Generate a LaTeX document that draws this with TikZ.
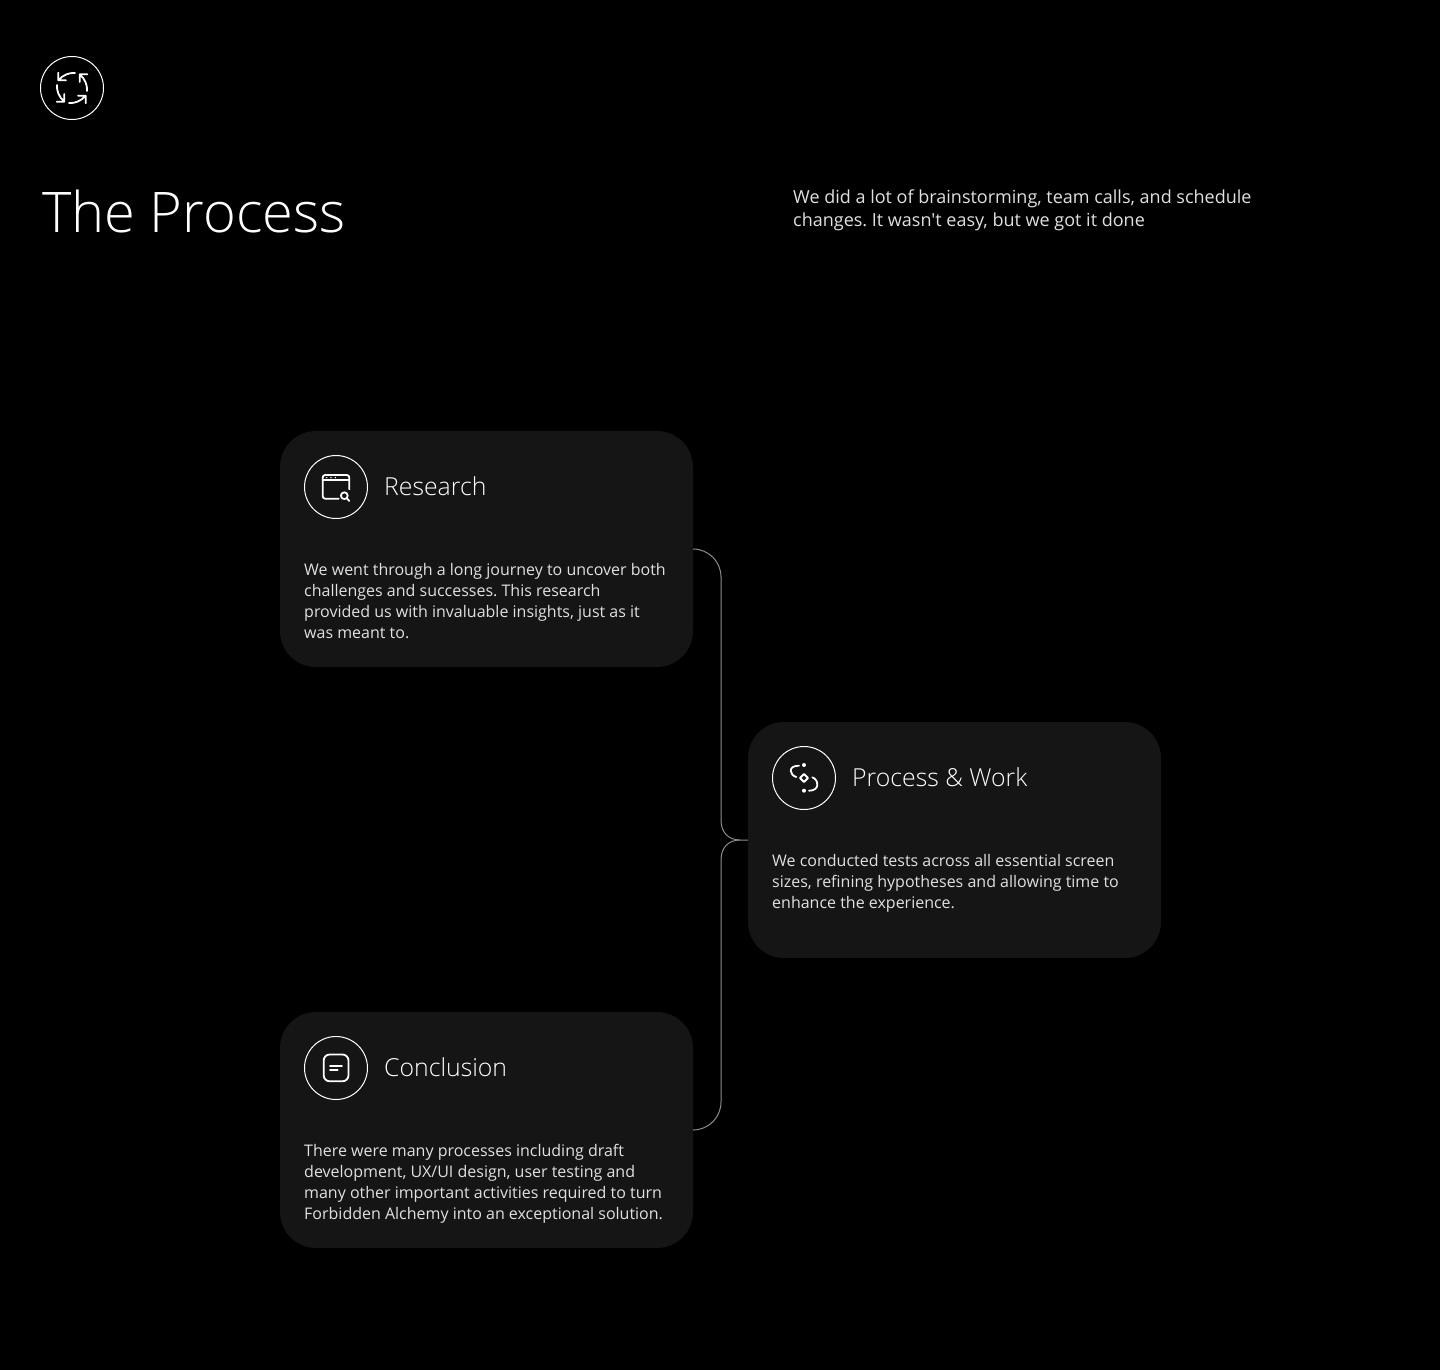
\documentclass[tikz,border=0pt]{standalone}
\usepackage{fontspec}
\setmainfont{Open Sans}[UprightFont=* Light]
\newfontfamily\bodyfont{Open Sans}
\definecolor{pagebg}{HTML}{000000}
\definecolor{cardbg}{HTML}{151515}
\definecolor{bodygrey}{HTML}{E0E0E0}
\definecolor{linkgrey}{HTML}{8C8C8C}
\tikzset{
  cardbox/.style={fill=cardbg,rounded corners=36,minimum width=413,minimum height=236,inner sep=0},
  iconring/.style={circle,draw=white,line width=1,minimum size=63,inner sep=0},
  iconline/.style={draw=white,line width=1.8,line cap=round,line join=round},
  cardtitle/.style={text=white,anchor=west,inner sep=0,font=\fontsize{24.8}{31}\selectfont},
  cardbody/.style={text=bodygrey,anchor=north west,inner sep=0,align=left,font=\bodyfont\frenchspacing\fontsize{16}{21}\selectfont},
  linkline/.style={draw=linkgrey,line width=1}
}
\begin{document}
\begin{tikzpicture}[x=1pt,y=-1pt]
\useasboundingbox[fill=pagebg] (0,0) rectangle (1440,1370);

% header
\node[iconring] (logoring) at (72,88) {};
\begin{scope}[shift={(72,88)}]
\foreach \a in {0,90,180,270}
  \draw[iconline,rotate=\a] (-13.7,-15.3)--(-13.7,-7.7)--(-6,-7.7) (-13.7,-7.7) .. controls (-9,-13) and (-3,-15.5) .. (3,-15);
\end{scope}
\node[text=white,anchor=base west,inner sep=0,font=\fontsize{56}{60}\selectfont] (title) at (42,232) {The Process};
\node[text=bodygrey,anchor=north west,inner sep=0,align=left,font=\bodyfont\frenchspacing\fontsize{18}{23}\selectfont] (intro) at (793,190) {We did a lot of brainstorming, team calls, and schedule\\changes. It wasn\symbol{39}t easy, but we got it done};

% cards
\node[cardbox] (research) at (486.5,549) {};
\node[cardbox] (process) at (954.5,840) {};
\node[cardbox] (conclusion) at (486.5,1130) {};

% connectors
\coordinate (bustop) at (721,820);
\coordinate (busbottom) at (721,860);
\coordinate (busjoin) at (740,840);
\draw[linkline,rounded corners=28] (research.east) -| (bustop);
\draw[linkline,rounded corners=28] (conclusion.east) -| (busbottom);
\draw[linkline] (bustop) .. controls (721,833) and (729,840) .. (busjoin) -- (process.west);
\draw[linkline] (busbottom) .. controls (721,847) and (729,840) .. (busjoin);

% research
\node[iconring] (researchring) at (336,487) {};
\begin{scope}[shift={(336,487)}]
\draw[iconline,rounded corners=2.5] (2.7,11.7)--(-13.3,11.7)--(-13.3,-12)--(13.3,-12)--(13.3,2.3);
\draw[iconline] (-13.3,-7)--(13.3,-7);
\foreach \x in {-9.3,-5,-0.7}
  \fill[white] (\x,-9.4) circle (0.8);
\draw[iconline] (8.3,8.7) circle (3.4) (10.8,11.2)--(13.3,14);
\end{scope}
\node[cardtitle] (researchtitle) at (384,486.5) {Research};
\node[cardbody] (researchbody) at (304,563) {We went through a long journey to uncover both\\challenges and successes. This research\\provided us with invaluable insights, just as it\\was meant to.};

% process
\node[iconring] (processring) at (804,778) {};
\begin{scope}[shift={(804,778)}]
\draw[iconline] (0,-4)--(4,0)--(0,4)--(-4,0)--cycle;
\fill[white] (0,-13) circle (2) (0,12.7) circle (2);
\draw[iconline] (-5,-12.3) .. controls (-10,-12.3) and (-13.3,-10.5) .. (-13.3,-7.3) .. controls (-13.3,-4.5) and (-11,-2) .. (-7.7,-1);
\draw[iconline] (8.3,-0.7) .. controls (11.5,0.5) and (13.3,3) .. (13.3,6.7) .. controls (13.3,10.5) and (10,12.7) .. (5,12.7);
\end{scope}
\node[cardtitle] (processtitle) at (852,777.5) {Process \& Work};
\node[cardbody] (processbody) at (772,854) {We conducted tests across all essential screen\\sizes, refining hypotheses and allowing time to\\enhance the experience.};

% conclusion
\node[iconring] (conclusionring) at (336,1068) {};
\begin{scope}[shift={(336,1068)}]
\draw[iconline,rounded corners=6] (-12.3,-13.5) rectangle (12.5,13.3);
\draw[iconline] (-6,-2.3)--(6,-2.3) (-6,2.3)--(1.7,2.3);
\end{scope}
\node[cardtitle] (conclusiontitle) at (384,1067.5) {Conclusion};
\node[cardbody] (conclusionbody) at (304,1144) {There were many processes including draft\\development, UX/UI design, user testing and\\many other important activities required to turn\\Forbidden Alchemy into an exceptional solution.};
\end{tikzpicture}
\end{document}
